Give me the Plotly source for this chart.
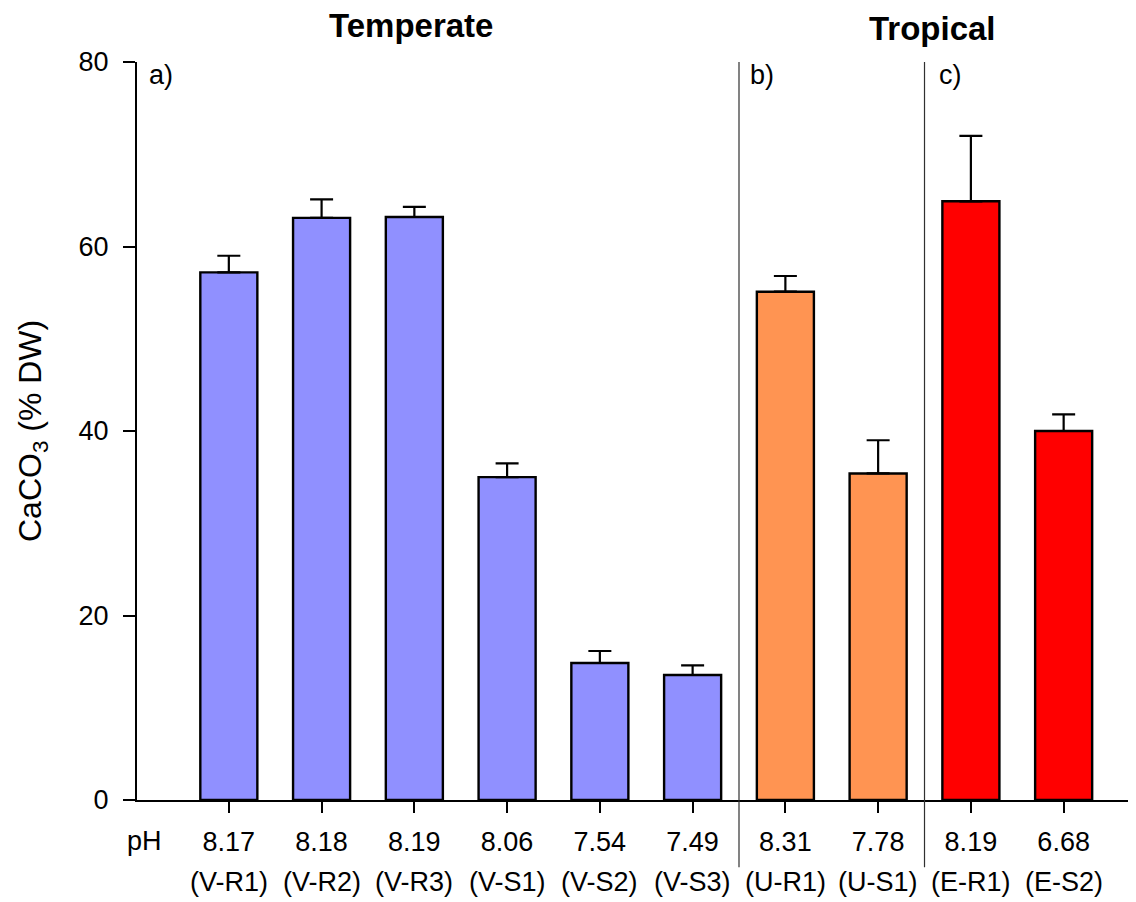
import plotly.graph_objects as go

sites = ["V-R1", "V-R2", "V-R3", "V-S1", "V-S2", "V-S3", "U-R1", "U-S1", "E-R1", "E-S2"]
ph = ["8.17", "8.18", "8.19", "8.06", "7.54", "7.49", "8.31", "7.78", "8.19", "6.68"]
caco3 = [57.2, 63.1, 63.2, 35.0, 14.85, 13.55, 55.1, 35.4, 64.9, 40.0]
err = [1.8, 2.0, 1.1, 1.5, 1.3, 1.05, 1.7, 3.6, 7.1, 1.8]
colors = ["#9090FF"] * 6 + ["#FF9452"] * 2 + ["#FF0000"] * 2

FONT = "Liberation Sans, Arial, sans-serif"
TS = 27

fig = go.Figure()
fig.add_trace(go.Bar(
    x=sites, y=caco3,
    width=0.615,
    marker=dict(color=colors, line=dict(color="black", width=2.4)),
    error_y=dict(type="data", array=err, arrayminus=[0] * len(err), symmetric=False,
                 color="black", thickness=2.2, width=11.5),
    showlegend=False,
))

# second row of x labels (site codes)
for s in sites:
    fig.add_annotation(x=s, xref="x", y=-0.111, yref="paper", text="(" + s + ")",
                       showarrow=False, font=dict(family=FONT, size=TS, color="black"),
                       xanchor="center", yanchor="middle")

fig.add_annotation(x=(144 - 137) / 999, xref="paper", y=-0.056, yref="paper", text="pH",
                   showarrow=False, font=dict(family=FONT, size=TS, color="black"),
                   xanchor="center", yanchor="middle")

# group titles
fig.add_annotation(x=0.274, xref="paper", y=1.049, yref="paper", text="<b>Temperate</b>",
                   showarrow=False, font=dict(family=FONT, size=33, color="black"),
                   xanchor="center", yanchor="middle")
fig.add_annotation(x=0.796, xref="paper", y=1.045, yref="paper", text="<b>Tropical</b>",
                   showarrow=False, font=dict(family=FONT, size=33, color="black"),
                   xanchor="center", yanchor="middle")

# panel labels
for lab, px in [("a)", 147), ("b)", 748), ("c)", 937)]:
    fig.add_annotation(x=(px - 137) / 999, xref="paper", y=0.982, yref="paper", text=lab,
                       showarrow=False, font=dict(family=FONT, size=TS, color="black"),
                       xanchor="left", yanchor="middle")

# y title
fig.add_annotation(x=(32 - 137) / 999, xref="paper", y=0.5, yref="paper",
                   text="CaCO<sub>3</sub> (% DW)", textangle=-90,
                   showarrow=False, font=dict(family=FONT, size=32, color="black"),
                   xanchor="center", yanchor="middle")

# separators
for xs in [5.5, 7.5]:
    fig.add_shape(type="line", x0=xs, x1=xs, xref="x", y0=-0.091, y1=1.0, yref="paper",
                  line=dict(color="#303030", width=1.2))

fig.update_layout(
    width=1128, height=894,
    margin=dict(l=129, r=0, t=54, b=102),
    plot_bgcolor="white", paper_bgcolor="white",
    font=dict(family=FONT, size=TS, color="black"),
    xaxis=dict(
        type="category", range=[-0.99, 9.78],
        tickmode="array", tickvals=sites, ticktext=ph,
        showline=True, linecolor="black", linewidth=2,
        ticks="outside", ticklen=11, tickwidth=2, tickcolor="black",
        showgrid=False, zeroline=False,
        tickfont=dict(family=FONT, size=TS, color="black"),
        ticklabelstandoff=6,
    ),
    yaxis=dict(
        range=[0, 80], tickvals=[0, 20, 40, 60, 80],
        showline=True, linecolor="black", linewidth=2,
        ticks="outside", ticklen=12, tickwidth=2, tickcolor="black",
        showgrid=False, zeroline=False,
        tickfont=dict(family=FONT, size=TS, color="black"),
        ticklabelstandoff=9,
    ),
)

fig.write_html("out.html")
